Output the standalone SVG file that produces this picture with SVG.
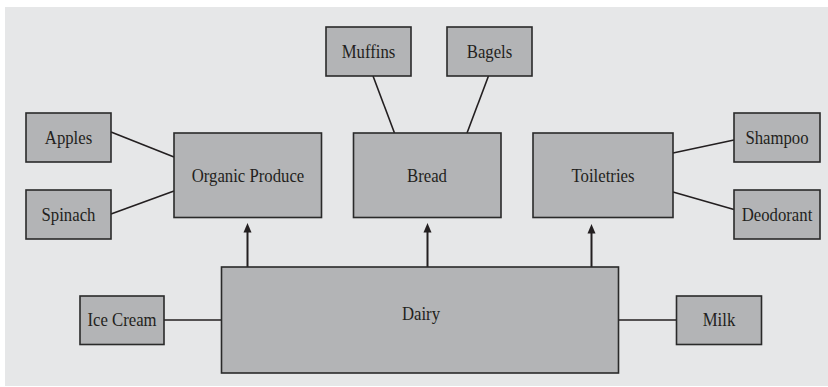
<svg xmlns="http://www.w3.org/2000/svg" width="828" height="387" viewBox="0 0 828 387">
<defs>
<style>
.box{fill:#b3b4b6;stroke:#2a2a2a;stroke-width:1.6}
.lbl{font-family:"Liberation Serif","Times New Roman",serif;font-size:18.2px;fill:#231f20;text-anchor:middle}
.ln{stroke:#231f20;stroke-width:1.6;fill:none}
.ar{stroke:#231f20;stroke-width:2;fill:none}
.ah{fill:#231f20}
</style>
</defs>
<rect x="5" y="7" width="823" height="379" fill="#e6e7e8"/>
<g id="connectors">
<line class="ln" x1="111" y1="132" x2="174" y2="157"/>
<line class="ln" x1="111" y1="214" x2="174" y2="191"/>
<line class="ln" x1="373" y1="76" x2="394.5" y2="133"/>
<line class="ln" x1="488.5" y1="76" x2="467" y2="133"/>
<line class="ln" x1="673" y1="153" x2="734" y2="140"/>
<line class="ln" x1="673" y1="192" x2="734" y2="209.5"/>
<line class="ln" x1="164" y1="320" x2="221" y2="320"/>
<line class="ln" x1="619" y1="320" x2="676" y2="320"/>
<line class="ar" x1="247.5" y1="267" x2="247.5" y2="231"/>
<path class="ah" d="M247.5,223 L243.5,232.5 L251.5,232.5 Z"/>
<line class="ar" x1="427.5" y1="267" x2="427.5" y2="231"/>
<path class="ah" d="M427.5,223 L423.5,232.5 L431.5,232.5 Z"/>
<line class="ar" x1="591.5" y1="267" x2="591.5" y2="232"/>
<path class="ah" d="M591.5,224 L587.5,233.5 L595.5,233.5 Z"/>
</g>
<g id="muffins"><rect class="box" x="326" y="27" width="85" height="49"/><text class="lbl" transform="translate(368.5 58) scale(0.92 1)">Muffins</text></g>
<g id="bagels"><rect class="box" x="447" y="27" width="85" height="49"/><text class="lbl" transform="translate(489.5 58) scale(0.92 1)">Bagels</text></g>
<g id="apples"><rect class="box" x="26" y="113" width="85" height="49"/><text class="lbl" transform="translate(68.5 143.5) scale(0.92 1)">Apples</text></g>
<g id="spinach"><rect class="box" x="26" y="190" width="85" height="49"/><text class="lbl" transform="translate(68.5 220.5) scale(0.92 1)">Spinach</text></g>
<g id="organic-produce"><rect class="box" x="174" y="133" width="147.5" height="84.5"/><text class="lbl" transform="translate(248 181.5) scale(0.92 1)">Organic Produce</text></g>
<g id="bread"><rect class="box" x="353.5" y="133" width="147.5" height="84.5"/><text class="lbl" transform="translate(427 181.5) scale(0.92 1)">Bread</text></g>
<g id="toiletries"><rect class="box" x="533" y="133" width="140" height="84.5"/><text class="lbl" transform="translate(603 181.5) scale(0.92 1)">Toiletries</text></g>
<g id="shampoo"><rect class="box" x="734" y="113" width="86" height="49"/><text class="lbl" transform="translate(777 143.5) scale(0.92 1)">Shampoo</text></g>
<g id="deodorant"><rect class="box" x="734" y="190" width="86" height="49"/><text class="lbl" transform="translate(777 220.5) scale(0.92 1)">Deodorant</text></g>
<g id="dairy"><rect class="box" x="221.5" y="267" width="397" height="106"/><text class="lbl" transform="translate(421 319.5) scale(0.92 1)">Dairy</text></g>
<g id="ice-cream"><rect class="box" x="80" y="296" width="84" height="48.5"/><text class="lbl" transform="translate(122 326) scale(0.92 1)">Ice Cream</text></g>
<g id="milk"><rect class="box" x="676.5" y="296" width="85" height="48.5"/><text class="lbl" transform="translate(719 326) scale(0.92 1)">Milk</text></g>
</svg>
